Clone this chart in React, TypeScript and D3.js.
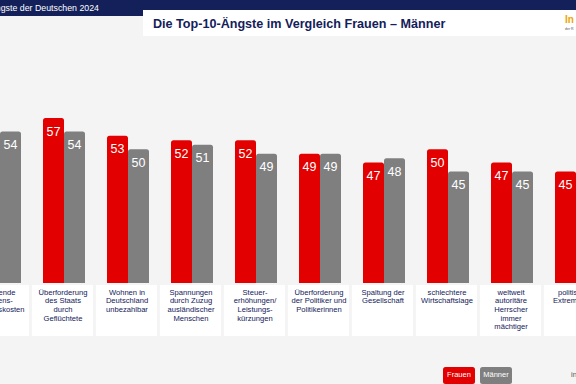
import { useEffect, useRef } from "react"
import * as d3 from "d3"

// categories (line breaks as on the slide)
const categories = [
  ["steigende", "Lebens-", "haltungskosten"],
  ["Überforderung", "des Staats", "durch", "Geflüchtete"],
  ["Wohnen in", "Deutschland", "unbezahlbar"],
  ["Spannungen", "durch Zuzug", "ausländischer", "Menschen"],
  ["Steuer-", "erhöhungen/", "Leistungs-", "kürzungen"],
  ["Überforderung", "der Politiker und", "Politikerinnen"],
  ["Spaltung der", "Gesellschaft"],
  ["schlechtere", "Wirtschaftslage"],
  ["weltweit", "autoritäre", "Herrscher", "immer", "mächtiger"],
  ["politischer", "Extremismus"],
]
const frauen = [58, 57, 53, 52, 52, 49, 47, 50, 47, 45]
const maenner = [54, 54, 50, 51, 49, 49, 48, 45, 45, 44]
const seriesNames = ["Frauen", "Männer"]
const seriesColors = ["#e30000", "#7f7f7f"]

const W = 576
const H = 384
const FONT = "'Liberation Sans', Arial, sans-serif"
const NAVY = "#13205a"

function topRounded(x: number, y: number, w: number, h: number, r: number) {
  return `M${x},${y + h}V${y + r}Q${x},${y} ${x + r},${y}H${x + w - r}Q${x + w},${y} ${x + w},${y + r}V${y + h}Z`
}

export default function App() {
  const svgRef = useRef<SVGSVGElement>(null)

  useEffect(() => {
    if (!svgRef.current) return
    const svg = d3.select(svgRef.current)
    svg.selectAll("*").remove()

    // background
    svg.append("rect").attr("width", W).attr("height", H).attr("fill", "#f4f4f4")

    // header band (the slide is cropped, so header texts run off the edges)
    svg.append("rect").attr("x", 0).attr("y", 0).attr("width", W).attr("height", 16).attr("fill", NAVY)
    svg
      .append("text")
      .attr("x", 99)
      .attr("y", 11)
      .attr("text-anchor", "end")
      .attr("fill", "#ffffff")
      .style("font-family", FONT)
      .style("font-size", "8.8px")
      .text("Die Ängste der Deutschen 2024")
    svg.append("rect").attr("x", 143).attr("y", 10).attr("width", W - 143).attr("height", 26).attr("fill", "#ffffff")
    svg
      .append("text")
      .attr("x", 153)
      .attr("y", 28)
      .attr("fill", NAVY)
      .style("font-family", FONT)
      .style("font-weight", "bold")
      .style("font-size", "12.6px")
      .text("Die Top-10-Ängste im Vergleich Frauen – Männer")
    svg
      .append("text")
      .attr("x", 565)
      .attr("y", 23)
      .attr("fill", "#f0a500")
      .style("font-family", FONT)
      .style("font-weight", "bold")
      .style("font-size", "10px")
      .text("In")
    svg
      .append("text")
      .attr("x", 565)
      .attr("y", 30)
      .attr("fill", "#555")
      .style("font-family", FONT)
      .style("font-size", "3.5px")
      .text("der R")

    // scales
    const idx = categories.map((_, i) => String(i))
    const x0 = d3.scaleBand<string>().domain(idx).range([-32, W + 32]).padding(0)
    const x1 = d3.scaleBand<string>().domain(seriesNames).range([-21, 21]).padding(0)
    const y = d3.scaleLinear().domain([20, 57]).range([283, 118])

    const g = svg.append("g")
    categories.forEach((lines, i) => {
      const cx = (x0(String(i)) ?? 0) + x0.bandwidth() / 2
      const vals = [frauen[i], maenner[i]]
      vals.forEach((v, s) => {
        const bx = cx + (x1(seriesNames[s]) ?? 0)
        const top = y(v)
        g.append("path")
          .attr("d", topRounded(bx, top, x1.bandwidth(), y(20) - top, 2.5))
          .attr("fill", seriesColors[s])
        g.append("text")
          .attr("x", bx + x1.bandwidth() / 2)
          .attr("y", top + 17.5)
          .attr("text-anchor", "middle")
          .attr("fill", "#ffffff")
          .style("font-family", FONT)
          .style("font-size", "12.5px")
          .text(v)
      })
      // label box
      g.append("rect")
        .attr("x", cx - 32)
        .attr("y", 285)
        .attr("width", 61)
        .attr("height", 51)
        .attr("fill", "#ffffff")
      const t = g
        .append("text")
        .attr("text-anchor", "middle")
        .attr("fill", NAVY)
        .style("font-family", FONT)
        .style("font-size", "7.6px")
      lines.forEach((l, k) => {
        t.append("tspan").attr("x", cx - 1).attr("y", 294.5 + k * 8.7).text(l)
      })
    })

    // legend
    seriesNames.forEach((name, s) => {
      const lx = 443 + s * 37
      svg
        .append("rect")
        .attr("x", lx)
        .attr("y", 367)
        .attr("width", 32)
        .attr("height", 17)
        .attr("rx", 2.5)
        .attr("fill", seriesColors[s])
      svg
        .append("text")
        .attr("x", lx + 16)
        .attr("y", 377)
        .attr("text-anchor", "middle")
        .attr("fill", "#ffffff")
        .style("font-family", FONT)
        .style("font-size", "7.5px")
        .text(name)
    })
    svg
      .append("text")
      .attr("x", 571)
      .attr("y", 377)
      .attr("fill", "#555")
      .style("font-family", FONT)
      .style("font-size", "7.5px")
      .text("in")
  }, [])

  return (
    <svg
      ref={svgRef}
      width={W}
      height={H}
      style={{ position: "absolute", left: 0, top: 0, display: "block" }}
    />
  )
}
